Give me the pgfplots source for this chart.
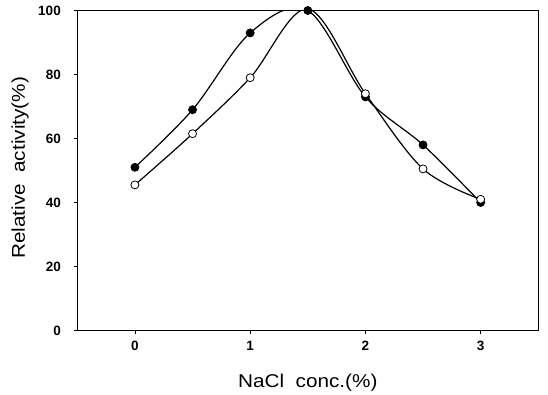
\documentclass[border=0pt]{standalone}
\usepackage{fontspec}
\setmainfont{Liberation Sans}
\newfontfamily\widefont[FakeStretch=1.12]{Liberation Sans}
\usepackage{pgfplots}
\pgfplotsset{compat=1.18}

\begin{document}
\begin{tikzpicture}
\begin{axis}[
  at={(0pt,0pt)}, anchor=south west,
  scale only axis,
  width=461pt, height=320pt,
  xmin=-0.5, xmax=3.5,
  ymin=0, ymax=100,
  xtick={0,1,2,3},
  ytick={0,20,40,60,80,100},
  tick align=outside,
  major tick length=3pt,
  xtick pos=bottom, ytick pos=left,
  axis line style={line width=1.4pt},
  tick style={line width=0.8pt, black},
  /pgf/number format/assume math mode=true,
  ticklabel style={font=\fontsize{13.5}{15}\selectfont\bfseries},
  xticklabel style={yshift=-4pt},
  yticklabel style={xshift=-10pt},
  xlabel={NaCl\ \ conc.(\%)},
  ylabel={Relative\ \ activity(\%)},
  label style={font=\widefont\fontsize{18.5}{20}\selectfont},
  xlabel style={at={(axis description cs:0.5,-0.164)}, anchor=center},
  ylabel style={at={(axis description cs:-0.124,0.508)}, anchor=center},
  clip=true,
  clip marker paths=false,
]
% closed circles
\addplot[black, line width=1.2pt, smooth, tension=0.55,
  mark=*, mark size=4pt, mark options={fill=black, line width=0.8pt}]
  coordinates {(0,51) (0.5,69) (1,93) (1.5,100) (2,73) (2.5,58) (3,40)};
% open circles
\addplot[black, line width=1.2pt, smooth, tension=0.55,
  mark=*, mark size=4pt, mark options={fill=white, line width=0.8pt}]
  coordinates {(0,45.5) (0.5,61.5) (1,79) (1.5,100.5) (2,74) (2.5,50.5) (3,41)};
\end{axis}
\path[use as bounding box] (-77.3pt,-62.5pt) rectangle (470.7pt,330.5pt);
\end{tikzpicture}
\end{document}
